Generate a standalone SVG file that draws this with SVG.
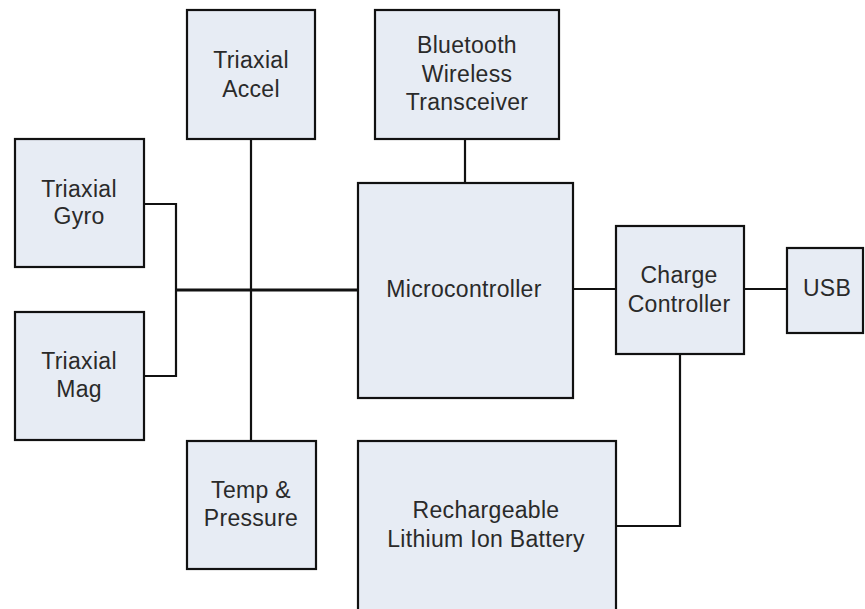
<svg xmlns="http://www.w3.org/2000/svg" width="865" height="609" viewBox="0 0 865 609">
<style>
.box{fill:#e7ecf4;stroke:#111;stroke-width:2.2}
.t{font-family:"Liberation Sans",Arial,sans-serif;font-size:23px;letter-spacing:0.3px;fill:#2a2a2a;text-anchor:middle}
.c{fill:none;stroke:#111;stroke-width:2.2}
</style>
<rect width="865" height="609" fill="#fff"/>
<g id="connectors">
<polyline class="c" points="144,204 176,204 176,376 144,376"/>
<line class="c" x1="176" y1="290" x2="358" y2="290" style="stroke-width:3"/>
<line class="c" x1="251" y1="139" x2="251" y2="441"/>
<line class="c" x1="465" y1="139" x2="465" y2="183"/>
<line class="c" x1="573" y1="289" x2="616" y2="289"/>
<line class="c" x1="744" y1="289" x2="787" y2="289"/>
<polyline class="c" points="680,354 680,526 616,526"/>
</g>
<g id="accel">
<rect class="box" x="187" y="10" width="128" height="129"/>
<text class="t" x="251" y="68">Triaxial</text>
<text class="t" x="251" y="97">Accel</text>
</g>
<g id="bluetooth">
<rect class="box" x="375" y="10" width="184" height="129"/>
<text class="t" x="467" y="53">Bluetooth</text>
<text class="t" x="467" y="82">Wireless</text>
<text class="t" x="467" y="110">Transceiver</text>
</g>
<g id="gyro">
<rect class="box" x="15" y="139" width="129" height="128"/>
<text class="t" x="79" y="197">Triaxial</text>
<text class="t" x="79" y="224">Gyro</text>
</g>
<g id="mag">
<rect class="box" x="15" y="312" width="129" height="128"/>
<text class="t" x="79" y="369">Triaxial</text>
<text class="t" x="79" y="397">Mag</text>
</g>
<g id="microcontroller">
<rect class="box" x="358" y="183" width="215" height="215"/>
<text class="t" x="464" y="297">Microcontroller</text>
</g>
<g id="charge">
<rect class="box" x="616" y="226" width="128" height="128"/>
<text class="t" x="679" y="283">Charge</text>
<text class="t" x="679" y="312">Controller</text>
</g>
<g id="usb">
<rect class="box" x="787" y="248" width="76" height="85"/>
<text class="t" x="827" y="296">USB</text>
</g>
<g id="temp">
<rect class="box" x="187" y="441" width="129" height="128"/>
<text class="t" x="251" y="498">Temp &amp;</text>
<text class="t" x="251" y="526">Pressure</text>
</g>
<g id="battery">
<rect class="box" x="358" y="441" width="258" height="175"/>
<text class="t" x="486" y="518">Rechargeable</text>
<text class="t" x="486" y="547">Lithium Ion Battery</text>
</g>
</svg>
